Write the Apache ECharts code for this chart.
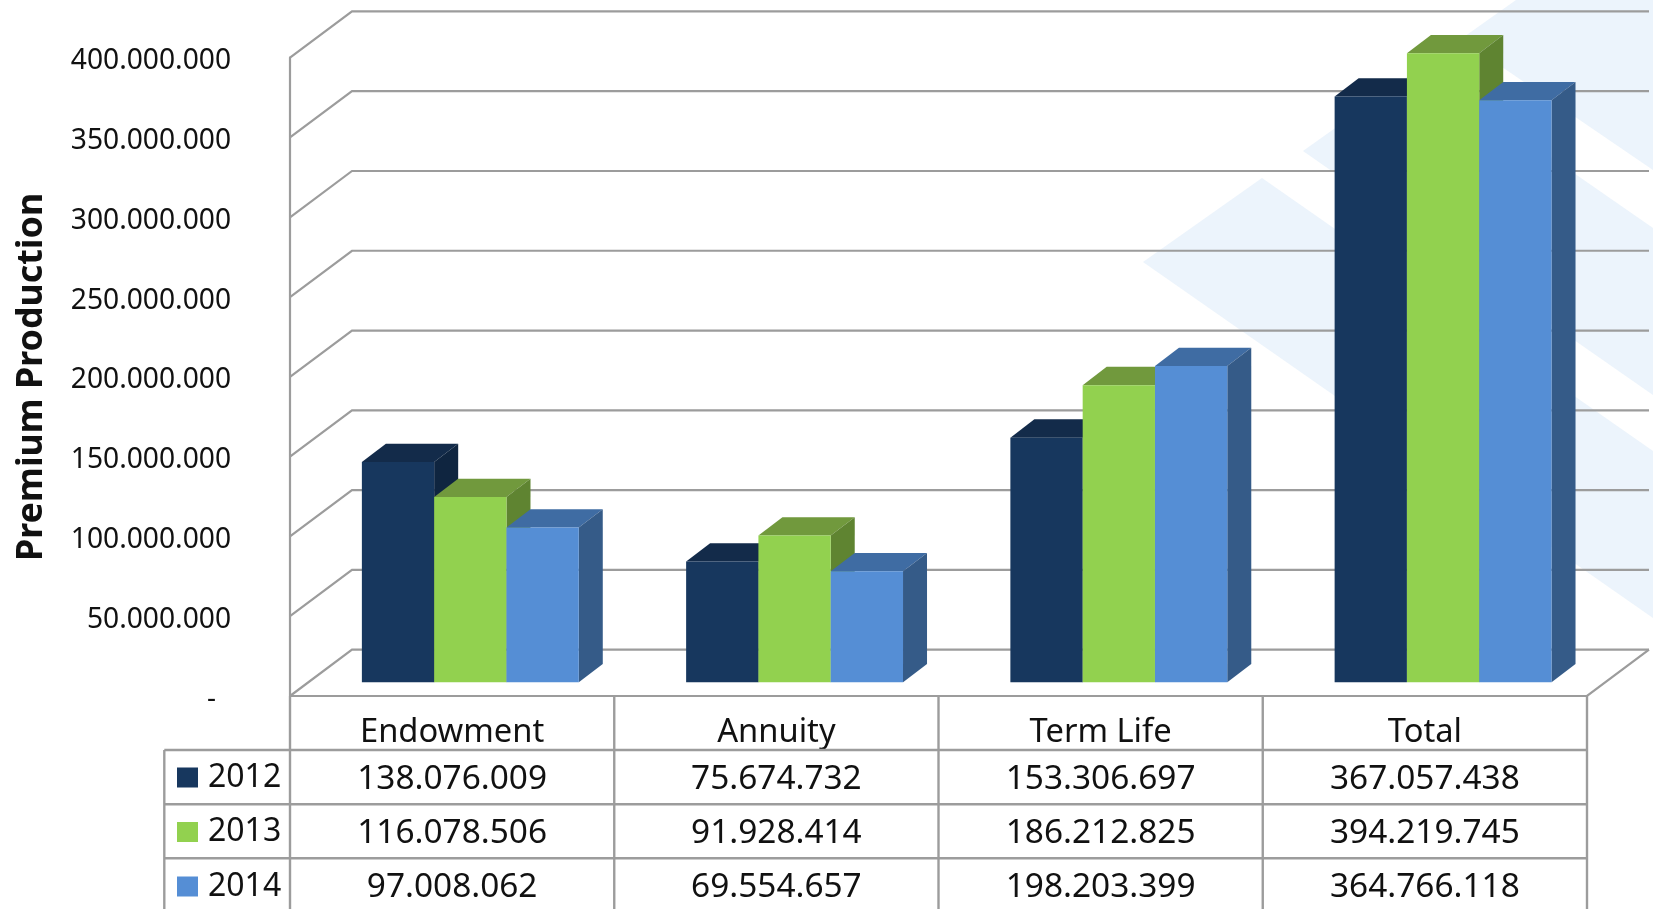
<!DOCTYPE html>
<html>
<head>
<meta charset="utf-8">
<title>Premium Production</title>
<script src="https://cdn.jsdelivr.net/npm/echarts@6/dist/echarts.min.js"></script>
<style>
html,body{margin:0;padding:0;background:#fff;overflow:hidden}
#chart{width:1653px;height:909px}
</style>
</head>
<body>
<div id="chart"></div>
<script>
// Chart data
const categories = ['Endowment', 'Annuity', 'Term Life', 'Total'];
const years = ['2012', '2013', '2014'];
const values2012 = [138076009, 75674732, 153306697, 367057438];
const values2013 = [116078506, 91928414, 186212825, 394219745];
const values2014 = [97008062, 69554657, 198203399, 364766118];
const axisTicks = [0, 50000000, 100000000, 150000000, 200000000, 250000000, 300000000, 350000000, 400000000];
const axisTitle = 'Premium Production';

// Face colours for each year: front, top, side
const palette = [
  { front: '#17375E', top: '#132B4A', side: '#0F2540' },
  { front: '#92D14F', top: '#71993D', side: '#5F8431' },
  { front: '#558ED5', top: '#3F6CA3', side: '#355B88' }
];

// Layout of the 3D box and the data table
const FONT = '"Noto Sans", sans-serif';
const GRID = { left: 290, right: 66, top: 57.7, bottom: 213 };
const LINE = '#9C9C9C';
const WALL = { dx: 62, dy: -46.3 };
const BAR = { width: 72.3, shiftX: 18.2, shiftY: -13.7, dx: 24, dy: -18.3 };
const TABLE = { left: 164.3, header: 696, rows: [750, 804.3, 858.3], end: 915, textY: [779, 833.5, 887.5] };

const dotted = v => String(v).replace(/\B(?=(\d{3})+$)/g, '.');

// Pale diamond bands behind the plot
const bands = [
  [[1143, 262], [1262, 178], [1653, 451], [1653, 618]],
  [[1303, 151], [1421, 67], [1653, 228], [1653, 395]],
  [[1461, 39], [1516, 0], [1653, 0], [1653, 170]]
];

function bandEdges(api) {
  const half = api.size([1, 0])[0] / 2;
  const x0 = api.coord([0, 0])[0] - half;
  const x1 = api.coord([categories.length - 1, 0])[0] + half;
  return { half, x0, x1 };
}

const stroke = (width) => ({ stroke: LINE, lineWidth: width, fill: null });

// One polyline per axis tick: up the side wall, then along the back wall
function renderWall(params, api) {
  const { x0, x1 } = bandEdges(api);
  const y = api.coord([0, api.value(0)])[1];
  const children = [{
    type: 'polyline',
    shape: { points: [[x0, y], [x0 + WALL.dx, y + WALL.dy], [x1 + WALL.dx, y + WALL.dy]] },
    style: stroke(2.2)
  }];
  if (api.value(0) === 0) {
    children.push({
      type: 'polyline',
      shape: { points: [[x0, y], [x1, y], [x1 + WALL.dx, y + WALL.dy]] },
      style: stroke(2.2)
    });
  }
  return { type: 'group', children };
}

// One vertical rule per category boundary in the table, with the row rules
function renderTableRules(params, api) {
  const { half, x1 } = bandEdges(api);
  const x = api.coord([api.value(0), 0])[0];
  const children = [
    { type: 'line', shape: { x1: x + half, y1: TABLE.header, x2: x + half, y2: TABLE.end }, style: stroke(2.4) }
  ];
  if (params.dataIndex === 0) {
    children.push({ type: 'line', shape: { x1: x - half, y1: TABLE.header, x2: x - half, y2: TABLE.end }, style: stroke(2.4) });
    children.push({ type: 'line', shape: { x1: TABLE.left, y1: TABLE.rows[0], x2: TABLE.left, y2: TABLE.end }, style: stroke(2.4) });
    TABLE.rows.forEach(r => children.push({
      type: 'line', shape: { x1: TABLE.left, y1: r, x2: x1, y2: r }, style: stroke(2.4)
    }));
  }
  return { type: 'group', children };
}

// A year's 3D bar plus its cell in the data table
function renderBar(yearIndex) {
  const colors = palette[yearIndex];
  return function (params, api) {
    const cat = api.value(0);
    const value = api.value(1);
    const center = api.coord([cat, 0]);
    const top = api.coord([cat, value]);
    const left = center[0] + BAR.shiftX + (yearIndex - 1.5) * BAR.width;
    const right = left + BAR.width;
    const base = center[1] + BAR.shiftY;
    const head = top[1] + BAR.shiftY;
    return {
      type: 'group',
      children: [
        { type: 'polygon', shape: { points: [[left, head], [right, head], [right + BAR.dx, head + BAR.dy], [left + BAR.dx, head + BAR.dy]] }, style: { fill: colors.top } },
        { type: 'polygon', shape: { points: [[right, head], [right + BAR.dx, head + BAR.dy], [right + BAR.dx, base + BAR.dy], [right, base]] }, style: { fill: colors.side } },
        { type: 'rect', shape: { x: left, y: head, width: BAR.width, height: base - head }, style: { fill: colors.front } },
        { type: 'text', style: {
            text: dotted(value), x: center[0], y: TABLE.textY[yearIndex],
            fill: '#111', font: '33.4px ' + FONT, textAlign: 'center', textVerticalAlign: 'middle'
          } }
      ]
    };
  };
}

const yearValues = [values2012, values2013, values2014];

const option = {
  backgroundColor: '#fff',
  animation: false,
  textStyle: { fontFamily: FONT },
  graphic: bands.map(points => ({
    type: 'polygon', z: -10, silent: true,
    shape: { points }, style: { fill: '#ECF4FC' }
  })),
  legend: {
    data: years.map((y, i) => ({ name: y, icon: 'rect', itemStyle: { color: palette[i].front } })),
    orient: 'vertical', left: 177, top: 761.5, padding: 0,
    itemWidth: 21, itemHeight: 20, itemGap: 22.5,
    selectedMode: false,
    textStyle: { fontSize: 32, color: '#111', fontFamily: FONT, padding: [8, 0, 0, 5] }
  },
  grid: GRID,
  xAxis: {
    type: 'category', data: categories,
    axisLine: { show: false }, axisTick: { show: false },
    axisLabel: { fontSize: 32.7, color: '#111', margin: 20, fontFamily: FONT, interval: 0 }
  },
  yAxis: {
    type: 'value', min: axisTicks[0], max: axisTicks[axisTicks.length - 1], interval: axisTicks[1],
    name: axisTitle, nameLocation: 'middle', nameGap: 240,
    nameTextStyle: { fontSize: 35.8, fontWeight: 'bold', color: '#111', fontFamily: FONT },
    splitLine: { show: false }, axisTick: { show: false },
    axisLine: { show: true, lineStyle: { color: LINE, width: 2.2 } },
    axisLabel: {
      fontSize: 28.2, color: '#111', margin: 59, fontFamily: FONT, padding: [7, 0, 0, 0],
      formatter: v => (v === 0 ? '{dash|-}' : dotted(v)),
      rich: { dash: { fontSize: 28, color: '#111', padding: [0, 15, 0, 0], fontFamily: FONT } }
    }
  },
  series: [
    { type: 'custom', name: 'walls', z: 1, silent: true, renderItem: renderWall,
      data: axisTicks.map(v => [v]), encode: { y: 0 } },
    { type: 'custom', name: 'rules', z: 1, silent: true, renderItem: renderTableRules,
      data: categories.map((c, i) => [i]), encode: { x: 0 } }
  ].concat(years.map((y, i) => ({
    type: 'custom', name: y, z: 3 + i, silent: true,
    itemStyle: { color: palette[i].front },
    renderItem: renderBar(i),
    data: yearValues[i].map((v, c) => [c, v]),
    encode: { x: 0, y: 1 }
  })))
};

const chart = echarts.init(document.getElementById('chart'), null, { renderer: 'canvas' });
chart.setOption(option);
</script>
</body>
</html>
